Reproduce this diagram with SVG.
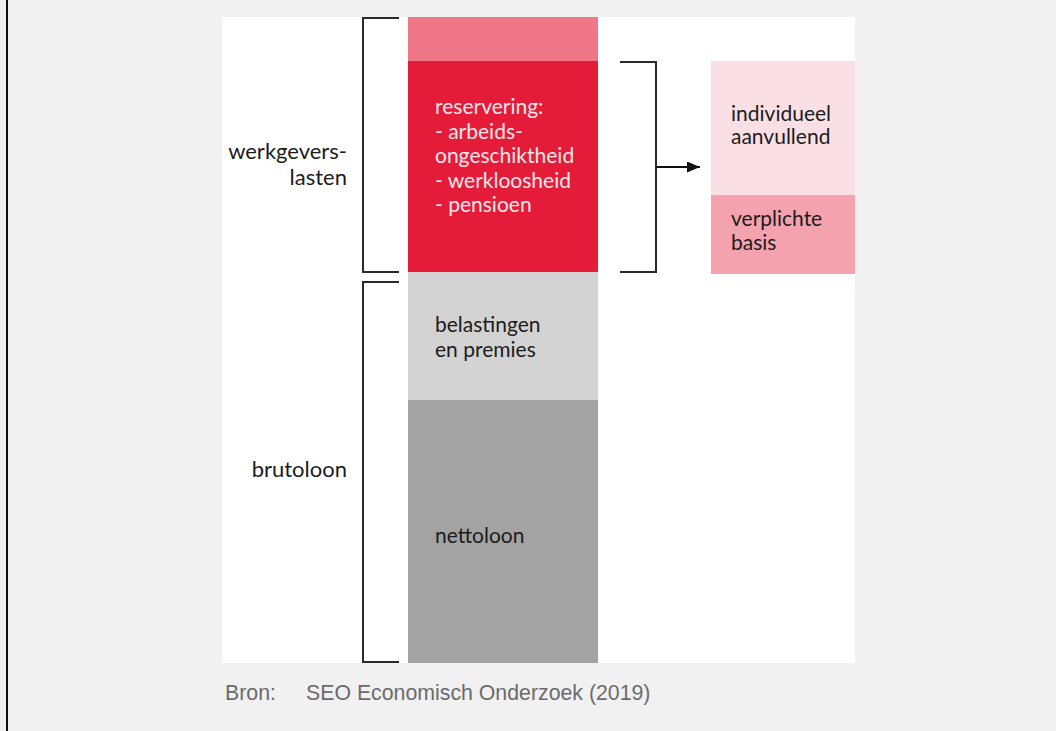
<svg xmlns="http://www.w3.org/2000/svg" width="1056" height="731" viewBox="0 0 1056 731">
<defs>
<style>
.t{font-family:Lato,"Noto Sans",sans-serif;font-size:21px;fill:#1c1c1c}
.lab{font-size:22px}
.w{fill:#fbe9ec}
.br{fill:none;stroke:#2a2a2a;stroke-width:2}
.src{font-family:"Liberation Sans",Arial,sans-serif;font-size:21.3px;fill:#6b6b6b}
</style>
<marker id="ah" markerWidth="13" markerHeight="11" refX="13" refY="5.5" orient="auto" markerUnits="userSpaceOnUse">
<path d="M0,0 L13,5.5 L0,11 Z" fill="#111"/>
</marker>
</defs>
<rect width="1056" height="731" fill="#f1f1f1"/>
<line x1="7" y1="0" x2="7" y2="731" stroke="#111" stroke-width="2"/>
<rect x="222" y="17" width="633" height="646" fill="#fff"/>

<g id="werkgeverslasten">
<text class="t lab" text-anchor="end"><tspan x="347" y="159">werkgevers-</tspan><tspan x="347" y="185">lasten</tspan></text>
</g>
<g id="brutoloon">
<text class="t lab" text-anchor="end" x="347" y="477">brutoloon</text>
</g>
<g id="top-block">
<rect x="408" y="17" width="190" height="44" fill="#f07787"/>
</g>
<g id="reservering">
<rect x="408" y="61" width="190" height="211" fill="#e41b39"/>
<text class="t w"><tspan x="435" y="114">reservering:</tspan><tspan x="435" y="139">- arbeids-</tspan><tspan x="435" y="163">ongeschiktheid</tspan><tspan x="435" y="188">- werkloosheid</tspan><tspan x="435" y="212">- pensioen</tspan></text>
</g>
<g id="belastingen">
<rect x="408" y="272" width="190" height="128" fill="#d3d3d3"/>
<text class="t"><tspan x="435" y="332">belastingen</tspan><tspan x="435" y="357">en premies</tspan></text>
</g>
<g id="nettoloon">
<rect x="408" y="400" width="190" height="263" fill="#a3a3a3"/>
<text class="t" x="435" y="543">nettoloon</text>
</g>
<g id="individueel">
<rect x="711" y="61" width="144" height="134" fill="#fae0e5"/>
<text class="t"><tspan x="731" y="121">individueel</tspan><tspan x="731" y="144">aanvullend</tspan></text>
</g>
<g id="verplichte">
<rect x="711" y="195" width="144" height="79" fill="#f4a2ae"/>
<text class="t"><tspan x="731" y="226">verplichte</tspan><tspan x="731" y="250">basis</tspan></text>
</g>

<g id="connectors">
<path class="br" d="M399,18 H363 V272 H399"/>
<path class="br" d="M399,282 H363 V662 H399"/>
<path class="br" d="M620,62 H656 V272 H620"/>
<line x1="656" y1="167" x2="700" y2="167" stroke="#111" stroke-width="2" marker-end="url(#ah)"/>
</g>

<g id="source">
<text class="src" x="225" y="700">Bron:</text>
<text class="src" x="306" y="700">SEO Economisch Onderzoek (2019)</text>
</g>
</svg>
